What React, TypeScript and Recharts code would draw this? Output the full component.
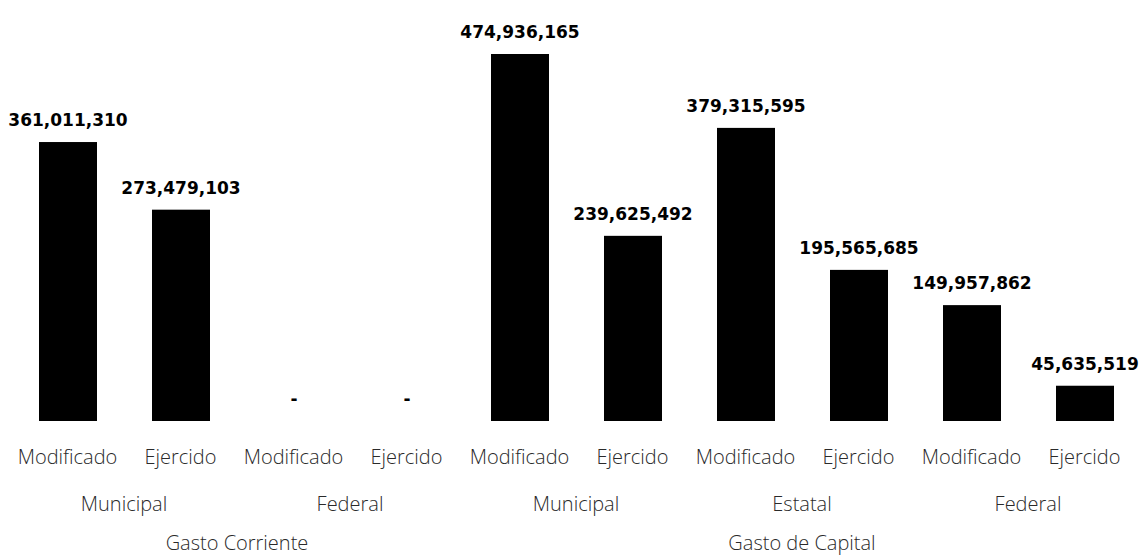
import React from 'react';
import { BarChart, Bar, XAxis, YAxis } from 'recharts';

const etapas = ['Modificado', 'Ejercido', 'Modificado', 'Ejercido', 'Modificado', 'Ejercido', 'Modificado', 'Ejercido', 'Modificado', 'Ejercido'];
const niveles = ['Municipal', 'Municipal', 'Federal', 'Federal', 'Municipal', 'Municipal', 'Estatal', 'Estatal', 'Federal', 'Federal'];
const gastos = ['Gasto Corriente', 'Gasto Corriente', 'Gasto Corriente', 'Gasto Corriente', 'Gasto de Capital', 'Gasto de Capital', 'Gasto de Capital', 'Gasto de Capital', 'Gasto de Capital', 'Gasto de Capital'];
const montos = [361011310, 273479103, 0, 0, 474936165, 239625492, 379315595, 195565685, 149957862, 45635519];

const data = etapas.map((etapa, i) => ({
  key: `${gastos[i]}|${niveles[i]}|${etapa}|${i}`,
  etapa,
  nivel: niveles[i],
  gasto: gastos[i],
  monto: montos[i],
}));

// where a grouped label should sit: tick index, and whether to shift back half a band
const spanCenter = (len: number, i: number, sameGroup: (a: number, b: number) => boolean) => {
  let s = i;
  while (s > 0 && sameGroup(s - 1, i)) s--;
  let e = i;
  while (e < len - 1 && sameGroup(e + 1, i)) e++;
  const sum = s + e;
  if (sum % 2 === 0) return { at: sum / 2, shift: false };
  return { at: (sum + 1) / 2, shift: true };
};

const textStyle = { fontFamily: '"Open Sans", sans-serif', fontWeight: 300, fontSize: 20, fill: '#2a2a2a' };

const CategoryTick = (props: any) => {
  const { x, y, index, payload } = props;
  const half = payload?.offset ?? 0;
  const parts: React.ReactNode[] = [];
  parts.push(
    <text key="e" x={x} y={y + 35} textAnchor="middle" dominantBaseline="central" style={textStyle}>
      {etapas[index]}
    </text>
  );
  const sub = spanCenter(niveles.length, index, (a, b) => niveles[a] === niveles[b] && gastos[a] === gastos[b]);
  if (sub.at === index) {
    parts.push(
      <text key="n" x={sub.shift ? x - half : x} y={y + 82} textAnchor="middle" dominantBaseline="central" style={textStyle}>
        {niveles[index]}
      </text>
    );
  }
  const grp = spanCenter(gastos.length, index, (a, b) => gastos[a] === gastos[b]);
  if (grp.at === index) {
    parts.push(
      <text key="g" x={grp.shift ? x - half : x} y={y + 121} textAnchor="middle" dominantBaseline="central" style={textStyle}>
        {gastos[index]}
      </text>
    );
  }
  return <g>{parts}</g>;
};

// bar plus its value label; zero values show a dash
const BarWithLabel = (props: any) => {
  const { x, y, width, height, payload } = props;
  const value = payload?.monto ?? 0;
  const txt = value === 0 ? '-' : Number(value).toLocaleString('en-US');
  return (
    <g>
      {height > 0 && <rect x={x} y={y} width={width} height={height} fill="#000" />}
      <text
        x={x + width / 2}
        y={y - 16}
        textAnchor="middle"
        style={{ fontFamily: '"DejaVu Sans", sans-serif', fontWeight: 700, fontSize: 17, fill: '#000' }}
      >
        {txt}
      </text>
    </g>
  );
};

export default function App() {
  return (
    <div style={{ width: 1147, height: 558, margin: '-8px 0 0 -8px', background: '#fff' }}>
      <BarChart
        width={1147}
        height={558}
        data={data}
        margin={{ top: 54, right: 6, left: 11, bottom: 0 }}
        style={{ overflow: 'visible' }}
      >
        <XAxis
          dataKey="key"
          height={137}
          axisLine={false}
          tickLine={false}
          tickSize={0}
          tickMargin={0}
          interval={0}
          tick={<CategoryTick />}
        />
        <YAxis hide domain={[0, 474936165]} />
        <Bar dataKey="monto" fill="#000" barSize={58} shape={<BarWithLabel />} isAnimationActive={false} />
      </BarChart>
    </div>
  );
}
